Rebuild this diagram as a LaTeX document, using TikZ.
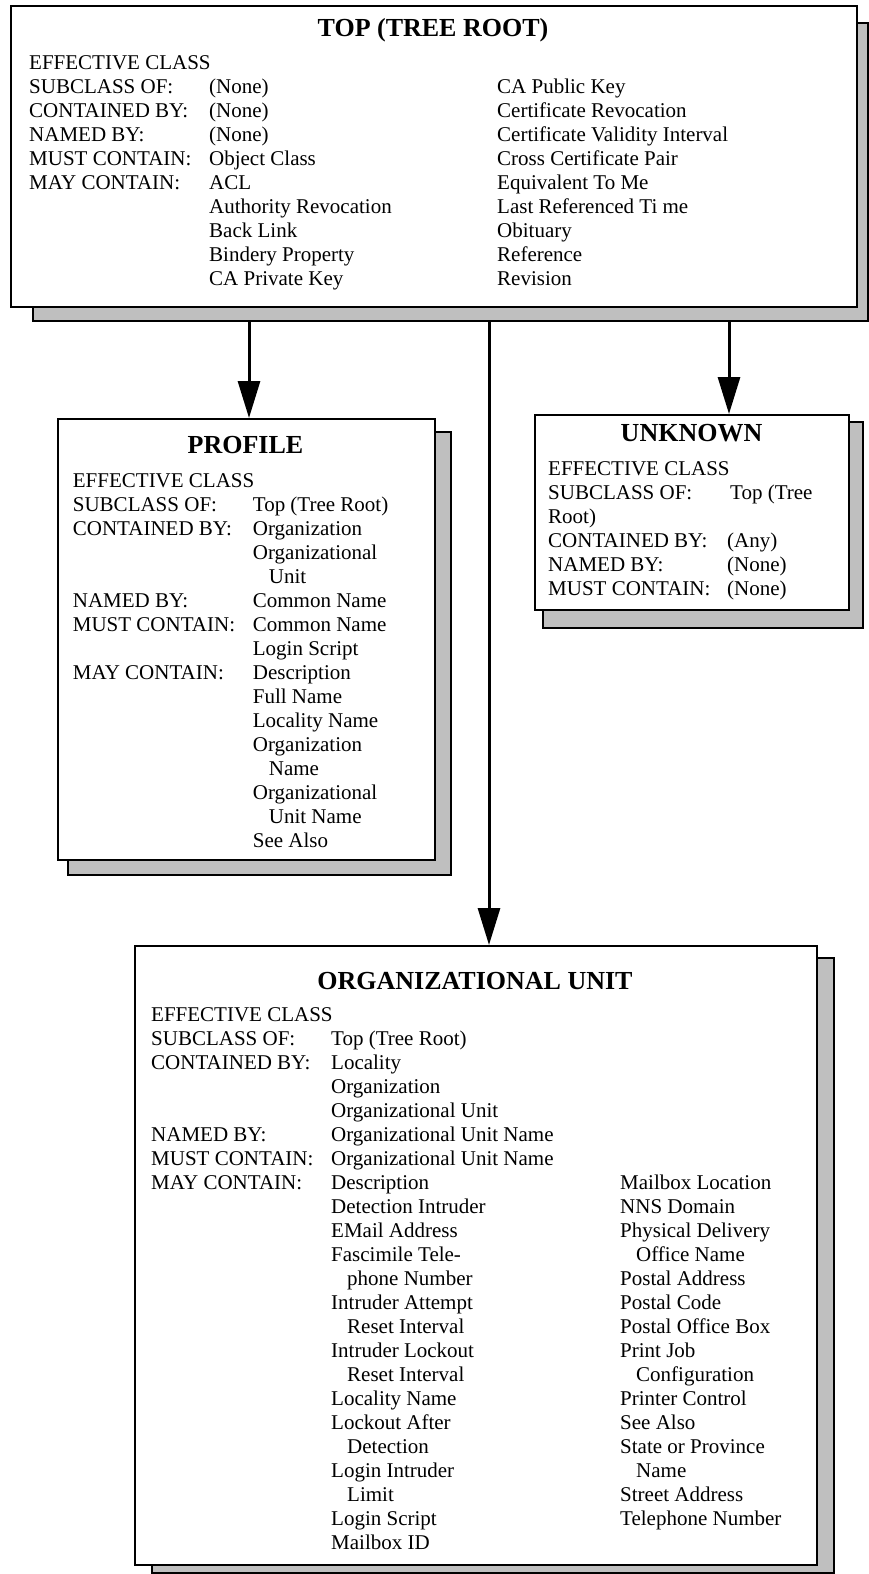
\documentclass[tikz,border=0pt]{standalone}
\usepackage{fontspec}
\setmainfont{Liberation Serif}
\usepackage{array}
\usetikzlibrary{arrows.meta,positioning,calc}

\tikzset{
  classbox/.style={draw, line width=2pt, fill=white, inner sep=0pt, anchor=north west},
  shadowbox/.style={draw, line width=2pt, fill=black!25, inner sep=0pt, anchor=north west},
  classtitle/.style={font=\bfseries\fontsize{26}{30}\selectfont, anchor=base, inner sep=0pt},
  classtext/.style={font=\fontsize{21}{24}\selectfont, anchor=base west, inner sep=0pt},
  inherit/.style={line width=3pt, -{Triangle[length=37pt,width=22pt]}}
}
\newcommand{\ind}{\hspace*{16pt}}

\begin{document}
\begin{tikzpicture}[x=1pt,y=-1pt]
  \useasboundingbox (0,0) rectangle (869,1574);
  % top of the tree
  \node[shadowbox, minimum width=835pt, minimum height=298pt] (topsh) at (32,22) {};
  \node[classbox, minimum width=846pt, minimum height=301pt] (top) at (10,5) {};
  \node[classtitle] (toptitle) at (433,36) {TOP (TREE ROOT)};
  \node[classtext] (toptxt) at (29,69) {%
    \begin{tabular}[t]{@{}p{180pt}@{}p{288pt}@{}l@{}}
      \multicolumn{3}{@{}l@{}}{EFFECTIVE CLASS} \\
      SUBCLASS OF: & (None) & CA Public Key \\
      CONTAINED BY: & (None) & Certificate Revocation \\
      NAMED BY: & (None) & Certificate Validity Interval \\
      MUST CONTAIN: & Object Class & Cross Certificate Pair \\
      MAY CONTAIN: & ACL & Equivalent To Me \\
      & Authority Revocation & Last Referenced Ti me \\
      & Back Link & Obituary \\
      & Bindery Property & Reference \\
      & CA Private Key & Revision
    \end{tabular}};
  % profile
  \node[shadowbox, minimum width=383pt, minimum height=443pt] (profilesh) at (67,431) {};
  \node[classbox, minimum width=377pt, minimum height=441pt] (profile) at (57,418) {};
  \node[classtitle] (profiletitle) at (245.5,453) {PROFILE};
  \node[classtext] (profiletxt) at (72.7,487) {%
    \begin{tabular}[t]{@{}p{180pt}@{}l@{}}
      \multicolumn{2}{@{}l@{}}{EFFECTIVE CLASS} \\
      SUBCLASS OF: & Top (Tree Root) \\
      CONTAINED BY: & Organization \\
      & Organizational \\
      & \ind Unit \\
      NAMED BY: & Common Name \\
      MUST CONTAIN: & Common Name \\
      & Login Script \\
      MAY CONTAIN: & Description \\
      & Full Name \\
      & Locality Name \\
      & Organization \\
      & \ind Name \\
      & Organizational \\
      & \ind Unit Name \\
      & See Also
    \end{tabular}};
  % unknown
  \node[shadowbox, minimum width=320pt, minimum height=206pt] (unknownsh) at (542,421) {};
  \node[classbox, minimum width=314pt, minimum height=195pt] (unknown) at (534,414) {};
  \node[classtitle] (unknowntitle) at (691.5,441) {UNKNOWN};
  \node[classtext] (unknowntxt) at (548,475) {%
    \begin{tabular}[t]{@{}p{179pt}@{}l@{}}
      \multicolumn{2}{@{}l@{}}{EFFECTIVE CLASS} \\
      SUBCLASS OF: & \hspace*{3pt}Top (Tree \\
      Root) & \\
      CONTAINED BY: & (Any) \\
      NAMED BY: & (None) \\
      MUST CONTAIN: & (None)
    \end{tabular}};
  % organizational unit
  \node[shadowbox, minimum width=682pt, minimum height=615pt] (orgunitsh) at (151,957) {};
  \node[classbox, minimum width=682pt, minimum height=619pt] (orgunit) at (134,945) {};
  \node[classtitle] (orgunittitle) at (475,989) {ORGANIZATIONAL UNIT};
  \node[classtext] (orgunittxt) at (151,1021) {%
    \begin{tabular}[t]{@{}p{180pt}@{}p{289pt}@{}l@{}}
      \multicolumn{3}{@{}l@{}}{EFFECTIVE CLASS} \\
      SUBCLASS OF: & Top (Tree Root) & \\
      CONTAINED BY: & Locality & \\
      & Organization & \\
      & Organizational Unit & \\
      NAMED BY: & Organizational Unit Name & \\
      MUST CONTAIN: & Organizational Unit Name & \\
      MAY CONTAIN: & Description & Mailbox Location \\
      & Detection Intruder & NNS Domain \\
      & EMail Address & Physical Delivery \\
      & Fascimile Tele- & \ind Office Name \\
      & \ind phone Number & Postal Address \\
      & Intruder Attempt & Postal Code \\
      & \ind Reset Interval & Postal Office Box \\
      & Intruder Lockout & Print Job \\
      & \ind Reset Interval & \ind Configuration \\
      & Locality Name & Printer Control \\
      & Lockout After & See Also \\
      & \ind Detection & State or Province \\
      & Login Intruder & \ind Name \\
      & \ind Limit & Street Address \\
      & Login Script & Telephone Number \\
      & Mailbox ID &
    \end{tabular}};
  % inheritance arrows
  \coordinate (xprofile) at (249,0);
  \coordinate (xorgunit) at (489,0);
  \coordinate (xunknown) at (729,0);
  \draw[inherit] (topsh.south -| xprofile) -- (xprofile |- profile.north);
  \draw[inherit] (topsh.south -| xorgunit) -- (xorgunit |- orgunit.north);
  \draw[inherit] (topsh.south -| xunknown) -- (xunknown |- unknown.north);
\end{tikzpicture}
\end{document}
